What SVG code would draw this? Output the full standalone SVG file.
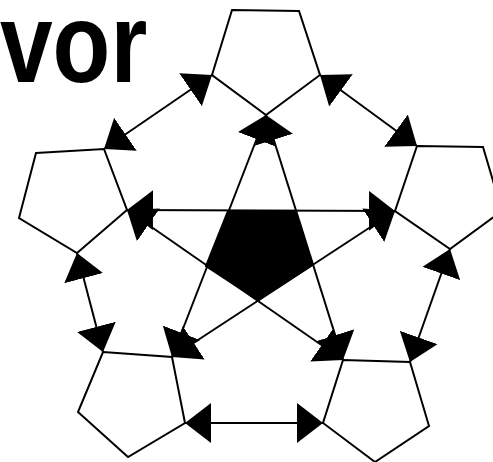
<svg xmlns="http://www.w3.org/2000/svg" width="493" height="462" viewBox="0 0 493 462">
  <style>
    .pent { fill: none; stroke: #000; stroke-width: 2; stroke-linejoin: miter; }
    .core { fill: #000; stroke: #000; stroke-width: 2; }
    .conn { stroke: #000; stroke-width: 2; fill: none; marker-start: url(#ah); marker-end: url(#ah); }
    .title { font-family: "Liberation Sans", Arial, sans-serif; font-weight: bold; font-size: 114px; fill: #000; }
  </style>
  <defs>
    <marker id="ah" viewBox="0 -20 26 40" refX="26" refY="0" markerWidth="26" markerHeight="40" markerUnits="userSpaceOnUse" orient="auto-start-reverse">
      <path d="M0,-20 L26,0 L0,20 Z" fill="#000"/>
    </marker>
  </defs>
  <rect width="493" height="462" fill="#fff"/>

  <g id="title">
    <text class="title" transform="translate(0,82) scale(0.83,1)" x="0" y="0">vor</text>
  </g>

  <g id="node-top"><polygon class="pent" points="232,10 299,11 320,75 266,115 212,75"/></g>
  <g id="node-left"><polygon class="pent" points="36,153 104,149 127,210 77,253 19,218"/></g>
  <g id="node-right"><polygon class="pent" points="417,146 483,147 502,211 450,249 395,211"/></g>
  <g id="node-bottom-left"><polygon class="pent" points="103,352 172,357 185,423 128,457 78,412"/></g>
  <g id="node-bottom-right"><polygon class="pent" points="343,360 410,362 429,426 375,462 323,423"/></g>
  <g id="node-center"><polygon class="core" points="228,211 295,211 312,265 258,300 206,266"/></g>

  <g id="connectors">
    <line class="conn" x1="104" y1="149" x2="212" y2="75"/>
    <line class="conn" x1="320" y1="75" x2="417" y2="146"/>
    <line class="conn" x1="77" y1="253" x2="103" y2="352"/>
    <line class="conn" x1="450" y1="249" x2="410" y2="362"/>
    <line class="conn" x1="185" y1="423" x2="323" y2="423"/>
    <line class="conn" x1="127" y1="210" x2="395" y2="211"/>
    <line class="conn" x1="266" y1="115" x2="343" y2="360"/>
    <line class="conn" x1="395" y1="211" x2="172" y2="357"/>
    <line class="conn" x1="343" y1="360" x2="127" y2="210"/>
    <line class="conn" x1="172" y1="357" x2="266" y2="115"/>
  </g>
</svg>
